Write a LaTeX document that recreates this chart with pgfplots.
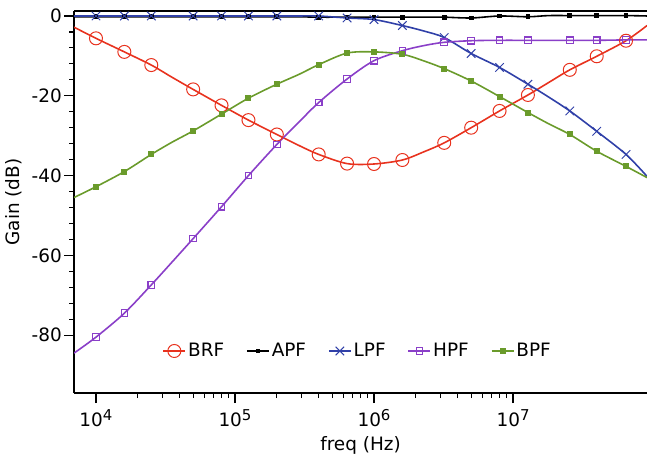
\documentclass[border=0pt]{standalone}
\usepackage{fontspec}
\setmainfont{DejaVu Sans}
\usepackage{pgfplots}
\pgfplotsset{compat=1.18}
\definecolor{BrfRed}{HTML}{E8321E}
\definecolor{LpfBlue}{HTML}{3040A8}
\definecolor{HpfPurple}{HTML}{8A3FC8}
\definecolor{BpfGreen}{HTML}{6A9B2B}
\newcommand{\tfont}{\fontsize{18.5}{21}\selectfont}
\newcommand{\dec}[1]{10\raisebox{6.5bp}{\fontsize{15}{15}\selectfont #1}}

\begin{document}
\begin{tikzpicture}
\begin{axis}[name=ax,
  scale only axis,width=573bp,height=382bp,
  xmode=log,xmin=6950,xmax=9.2e7,
  ymin=-94.5,ymax=1.25,
  axis x line=bottom,axis y line=left,
  axis line style={-,line width=1.5pt,black},
  tick align=outside,
  major tick length=10bp,minor tick length=5bp,
  tick style={black,line width=1.2pt},
  xtick={1e4,1e5,1e6,1e7},
  xticklabels={\dec{4},\dec{5},\dec{6},\dec{7}},
  ytick={-80,-60,-40,-20,0},
  minor y tick num=4,
  /pgf/number format/assume math mode=true,
  ticklabel style={font=\tfont},
  yticklabel style={inner sep=2bp},
  xticklabel style={inner sep=2bp,yshift=-4bp},
  xlabel={freq (Hz)},ylabel={Gain (dB)},
  label style={font=\tfont},
  ylabel style={yshift=4bp},
  xlabel style={yshift=-4bp},
  legend columns=5,
  legend style={at={(0.495,0.11)},anchor=center,draw=none,fill=none,font=\tfont,
    /tikz/every even column/.append style={column sep=20bp}},
  legend image code/.code={\draw[mark indices={2}]
    plot coordinates {(0bp,0bp) (11bp,0bp) (22bp,0bp)};},
  every axis plot/.append style={smooth,line width=1.6pt,
    mark indices={2,3,4,6,7,8,9,11,12,13,14,16,17,18,19,21,22,23}},
]
% BRF
\addplot[BrfRed,mark=o,mark size=6.5bp,mark options={solid,line width=1pt}] coordinates {
(6950,-2.8) (1e4,-5.6) (1.6e4,-9.0) (2.5e4,-12.3) (3.5e4,-15.3) (5e4,-18.4)
(8e4,-22.4) (1.25e5,-26.1) (2e5,-29.7) (2.9e5,-32.5) (4e5,-34.7) (6.4e5,-37.0)
(1e6,-37.1) (1.6e6,-36.1) (2.3e6,-34.0) (3.2e6,-31.8) (5e6,-28.0) (8e6,-23.8)
(1.28e7,-19.8) (1.8e7,-16.7) (2.56e7,-13.5) (4e7,-10.1) (6.5e7,-6.2) (9.2e7,-2.4)};
\addlegendentry{BRF}
% APF
\addplot[black,mark=square*,mark size=1.6bp,mark options={solid}] coordinates {
(6950,-0.2) (1e4,-0.2) (1.6e4,-0.2) (2.5e4,-0.2) (3.5e4,-0.2) (5e4,-0.2)
(8e4,-0.2) (1.25e5,-0.2) (2e5,-0.2) (2.9e5,-0.2) (4e5,-0.3) (6.4e5,-0.3)
(1e6,-0.3) (1.6e6,-0.3) (2.3e6,-0.3) (3.2e6,-0.3) (5e6,-0.5) (8e6,0.0)
(1.28e7,-0.2) (1.8e7,0.1) (2.56e7,0.1) (4e7,0.1) (6.5e7,0.1) (9.2e7,0.0)};
\addlegendentry{APF}
% LPF
\addplot[LpfBlue,mark=x,mark size=6bp,mark options={solid,line width=1pt}] coordinates {
(6950,0.0) (1e4,0.0) (1.6e4,0.0) (2.5e4,0.0) (3.5e4,0.0) (5e4,0.0)
(8e4,0.0) (1.25e5,0.0) (2e5,0.0) (2.9e5,0.0) (4e5,0.0) (6.4e5,-0.5)
(1e6,-0.9) (1.6e6,-2.4) (2.3e6,-3.8) (3.2e6,-5.4) (5e6,-9.4) (8e6,-12.9)
(1.28e7,-17.1) (1.8e7,-20.3) (2.56e7,-23.8) (4e7,-28.9) (6.5e7,-34.7) (9.2e7,-40.2)};
\addlegendentry{LPF}
% HPF
\addplot[HpfPurple,mark=square,mark size=3.3bp,mark options={solid,line width=1.1pt}] coordinates {
(6950,-84.5) (1e4,-80.5) (1.6e4,-74.5) (2.5e4,-67.4) (3.5e4,-61.8) (5e4,-55.8)
(8e4,-47.8) (1.25e5,-40.0) (2e5,-32.2) (2.9e5,-26.5) (4e5,-21.7) (6.4e5,-15.8)
(1e6,-11.2) (1.6e6,-8.7) (2.3e6,-7.4) (3.2e6,-6.6) (5e6,-6.2) (8e6,-6.1)
(1.28e7,-6.1) (1.8e7,-6.1) (2.56e7,-6.1) (4e7,-6.1) (6.5e7,-6.0) (9.2e7,-6.0)};
\addlegendentry{HPF}
% BPF
\addplot[BpfGreen,mark=square*,mark size=2.2bp,mark options={solid}] coordinates {
(6950,-45.5) (1e4,-42.8) (1.6e4,-39.0) (2.5e4,-34.7) (3.5e4,-31.7) (5e4,-28.8)
(8e4,-24.6) (1.25e5,-20.6) (2e5,-17.1) (2.9e5,-14.6) (4e5,-12.2) (6.4e5,-9.3)
(1e6,-9.0) (1.6e6,-9.6) (2.3e6,-11.3) (3.2e6,-13.2) (5e6,-16.3) (8e6,-20.2)
(1.28e7,-24.2) (1.8e7,-27.0) (2.56e7,-29.7) (4e7,-33.9) (6.5e7,-37.7) (9.2e7,-40.5)};
\addlegendentry{BPF}
\draw[black,line width=1.6pt] (rel axis cs:0,1) -- (rel axis cs:1,1);
\end{axis}
\pgfresetboundingbox
\path ([shift={(-74bp,-67bp)}]ax.south west) rectangle ([shift={(0bp,11bp)}]ax.north east);
\end{tikzpicture}
\end{document}
